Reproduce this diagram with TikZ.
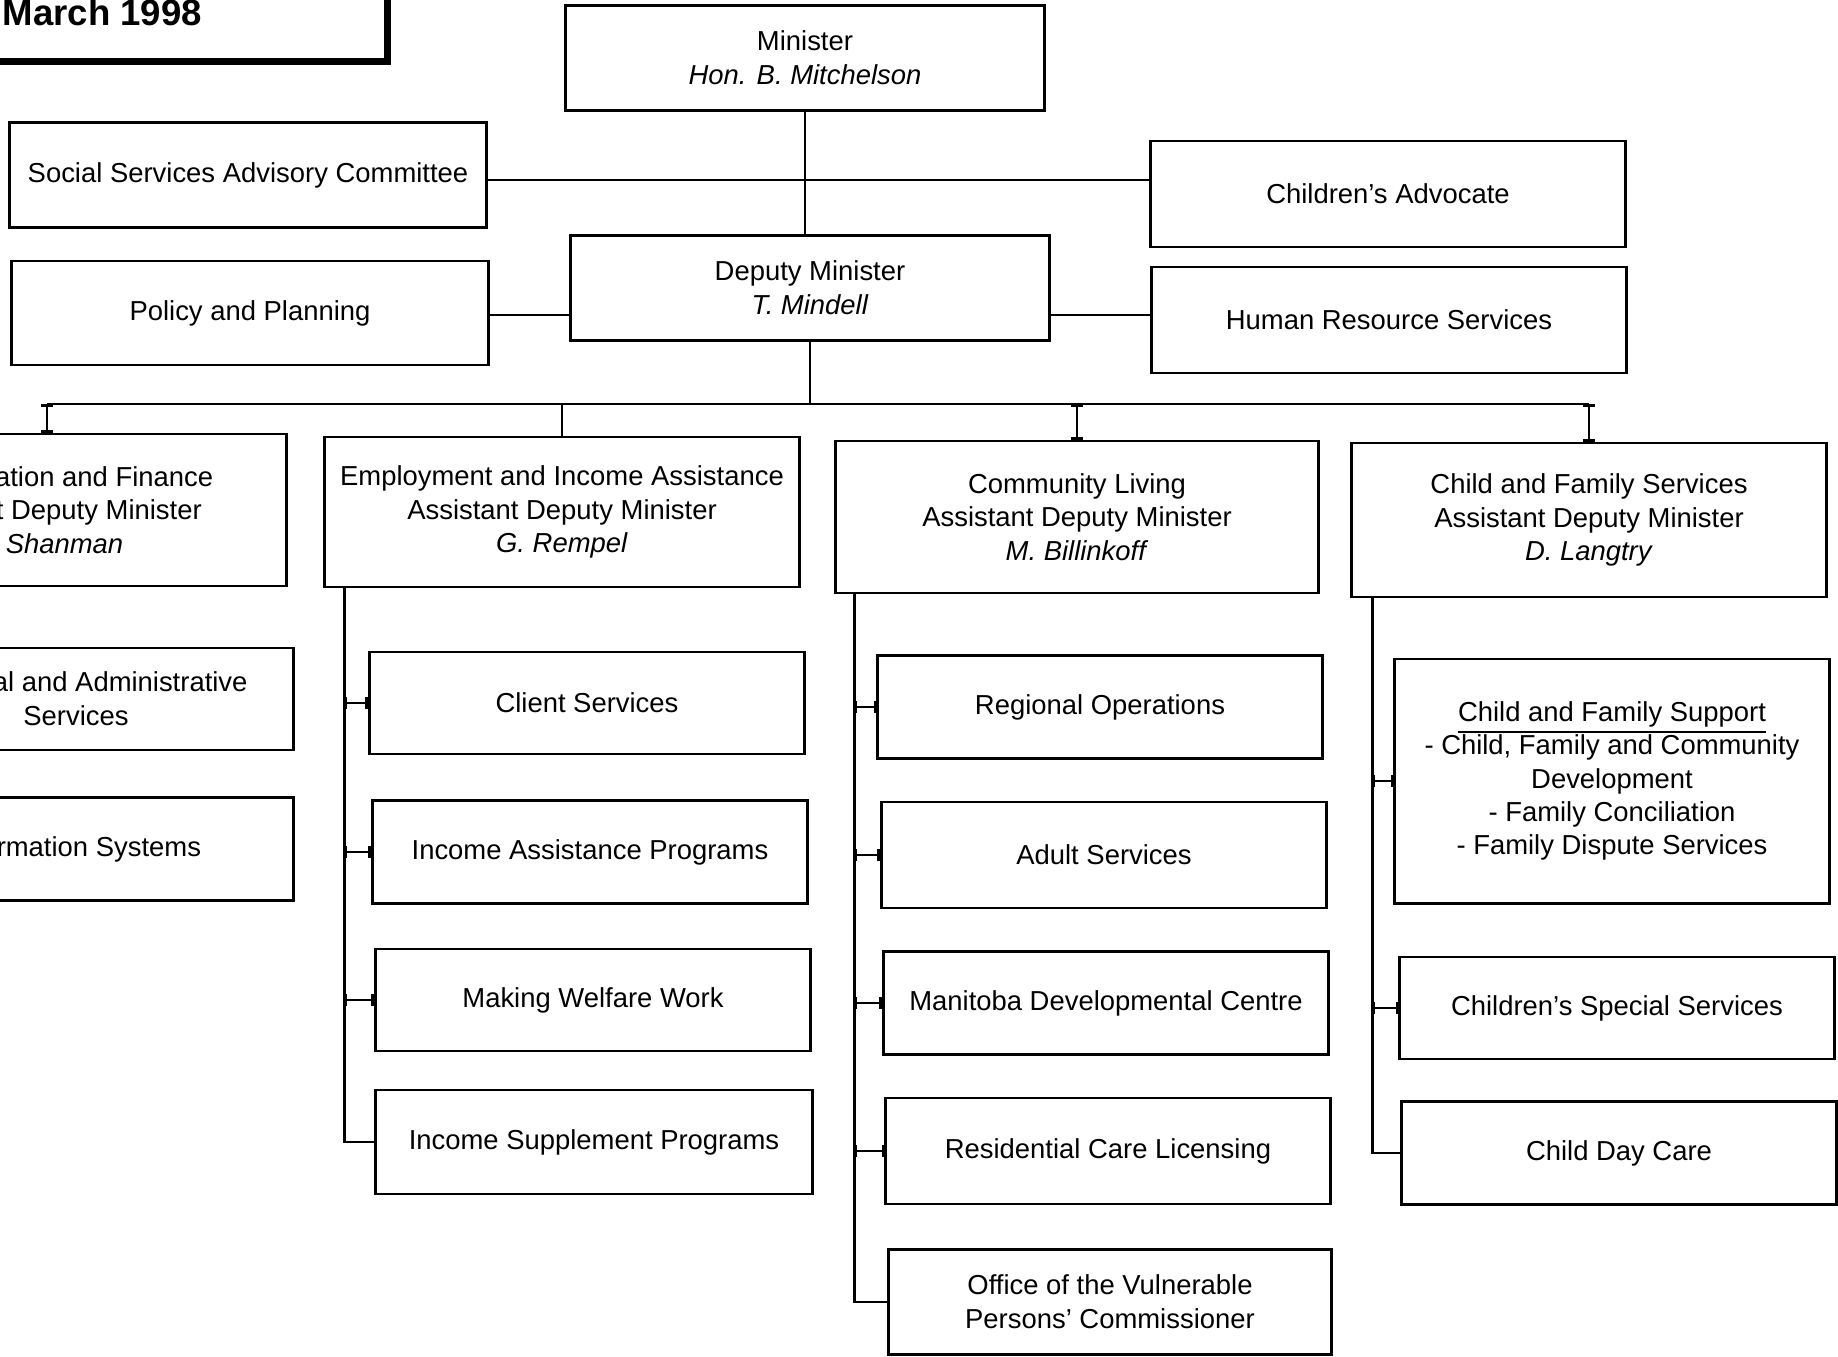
\documentclass[tikz,border=0pt]{standalone}
\usepackage{fontspec}
\setmainfont{Liberation Sans}
\usepackage{tikz}
\usetikzlibrary{calc,arrows.meta}

\newcommand{\boxfont}{\fontsize{7.8}{9.6}\selectfont}

\tikzset{
  unit/.style={draw, thick, align=center, inner sep=0pt, font=\boxfont},
  wh/.style 2 args={minimum width=#1cm, minimum height=#2cm},
  link/.style={thick},
  tick/.style={thick, {Bar[width=3.5pt]}-{Bar[width=3.5pt]}},
}

\begin{document}
\begin{tikzpicture}[x=0.01cm, y=-0.01cm]

        \useasboundingbox (0,0) rectangle (1838,1356);
        \clip (0,0) rectangle (1838,1356);

        % Date box, cut off at the top left
        \node[draw, line width=2pt, wh={4.87}{1.61}] (datebox) at (143.5,-19.5) {};
        \node[anchor=base west, inner sep=0pt, font=\bfseries\fontsize{10.4}{12}\selectfont] (date) at (2,25) {March 1998};

        % Minister, deputy and the boxes beside them
        \node[unit, wh={4.78}{1.05}] (min) at (805,58) {Minister\\\textit{Hon. B. Mitchelson}};
        \node[unit, wh={4.77}{1.05}] (ssac) at (248,175) {Social Services Advisory Committee};
        \node[unit, wh={4.74}{1.06}] (ca) at (1388,194) {Children's Advocate};
        \node[unit, wh={4.77}{1.04}] (pp) at (250,313) {Policy and Planning};
        \node[unit, wh={4.78}{1.05}] (dm) at (810,288) {Deputy Minister\\\textit{T. Mindell}};
        \node[unit, wh={4.74}{1.06}] (hrs) at (1389,320) {Human Resource Services};

        % Assistant deputy ministers
        \node[unit, wh={4.78}{1.52}] (af) at (47,510) {Administration and Finance\\Assistant Deputy Minister\\\textit{C. Shanman}};
        \node[unit, wh={4.74}{1.50}] (eia) at (562,512) {Employment and Income Assistance\\Assistant Deputy Minister\\\textit{G. Rempel}};
        \node[unit, wh={4.82}{1.52}] (cl) at (1077,517) {Community Living\\Assistant Deputy Minister\\\textit{M. Billinkoff}};
        \node[unit, wh={4.74}{1.54}] (cfs) at (1589,520) {Child and Family Services\\Assistant Deputy Minister\\\textit{D. Langtry}};

        % Administration and Finance branches
        \node[unit, wh={4.35}{1.02}] (fas) at (76,699) {Financial and Administrative\\Services};
        \node[unit, wh={4.35}{1.03}] (is) at (76,849) {Information Systems};

        % Employment and Income Assistance branches
        \node[unit, wh={4.35}{1.02}] (cs) at (587,703) {Client Services};
        \node[unit, wh={4.35}{1.03}] (iap) at (590,852) {Income Assistance Programs};
        \node[unit, wh={4.35}{1.02}] (mww) at (593,1000) {Making Welfare Work};
        \node[unit, wh={4.36}{1.04}] (isp) at (594,1142) {Income Supplement Programs};

        % Community Living branches
        \node[unit, wh={4.44}{1.03}] (ro) at (1100,707) {Regional Operations};
        \node[unit, wh={4.45}{1.06}] (as) at (1104,855) {Adult Services};
        \node[unit, wh={4.45}{1.03}] (mdc) at (1106,1003) {Manitoba Developmental Centre};
        \node[unit, wh={4.44}{1.06}] (rcl) at (1108,1151) {Residential Care Licensing};
        \node[unit, wh={4.43}{1.05}] (ovpc) at (1110,1302) {Office of the Vulnerable\\Persons' Commissioner};

        % Child and Family Services branches
        \node[unit, wh={4.34}{2.44}, font=\fontsize{7.8}{9.5}\selectfont] (cfsup) at (1612,781) {\underline{Child and Family Support}\\- Child, Family and Community\\Development\\- Family Conciliation\\- Family Dispute Services};
        \node[unit, wh={4.34}{1.02}] (css) at (1617,1008) {Children's Special Services};
        \node[unit, wh={4.34}{1.03}] (cdc) at (1619,1153) {Child Day Care};

        % Top links
        \coordinate (hub) at (806,180);
        \coordinate (side) at (810,315);
        \coordinate (bus) at (809,404);
        \draw[link] (min.south) -- (min.south |- dm.north);
        \draw[link] (ssac.east |- hub) -- (ca.west |- hub);
        \draw[link] (pp.east |- side) -- (dm.west |- side);
        \draw[link] (dm.east |- side) -- (hrs.west |- side);

        % Bus to the assistant deputy ministers
        \draw[link] (dm.south) -- (dm.south |- bus);
        \draw[link] (af.north |- bus) -- (cfs.north |- bus);
        \draw[tick] (af.north |- bus) -- (af.north);
        \draw[link] (eia.north |- bus) -- (eia.north);
        \draw[tick] (cl.north |- bus) -- (cl.north);
        \draw[tick] (cfs.north |- bus) -- (cfs.north);

        % Trunks down to the branches
        \coordinate (eiat) at ($(eia.south west)+(21,0)$);
        \coordinate (clt) at ($(cl.south west)+(20,0)$);
        \coordinate (cfst) at ($(cfs.south west)+(22,0)$);

        \draw[link] (eiat) |- (isp.west);
        \foreach \b in {cs,iap,mww}
          \draw[tick] (eiat |- \b.west) -- (\b.west);

        \draw[link] (clt) |- (ovpc.west);
        \foreach \b in {ro,as,mdc,rcl}
          \draw[tick] (clt |- \b.west) -- (\b.west);

        \draw[link] (cfst) |- (cdc.west);
        \foreach \b in {cfsup,css}
          \draw[tick] (cfst |- \b.west) -- (\b.west);

      \end{tikzpicture}
\end{document}
